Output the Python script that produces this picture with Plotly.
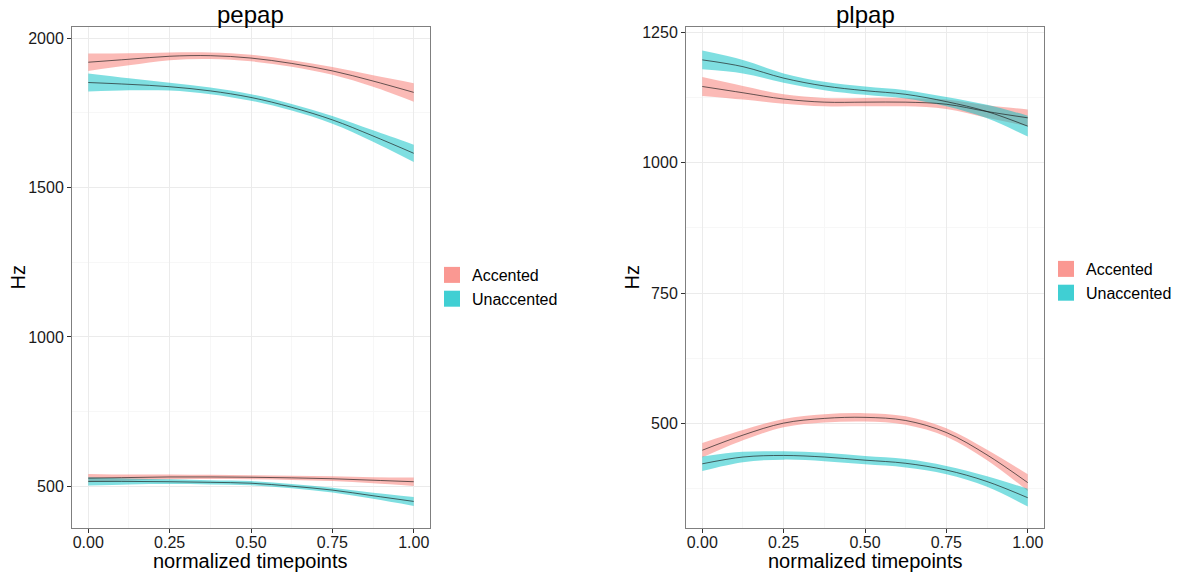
import plotly.graph_objects as go

# ---------------- data ----------------
timepoints = [0.0, 0.125, 0.25, 0.375, 0.5, 0.625, 0.75, 0.875, 1.0]
groups = ["Accented", "Unaccented"]
panels = ["pepap", "plpap"]
x_title = "normalized timepoints"
y_title = "Hz"
x_tick_vals = [0, 0.25, 0.5, 0.75, 1.0]
x_tick_text = ["0.00", "0.25", "0.50", "0.75", "1.00"]
y_ticks_pepap = [500, 1000, 1500, 2000]
y_ticks_plpap = [500, 750, 1000, 1250]

# pepap
pepap_acc_high = [1920, 1930, 1940, 1942, 1934, 1916, 1891, 1857, 1819]
pepap_acc_high_ci = [29, 20, 13, 11, 11, 11, 13, 19, 31]
pepap_unacc_high = [1852, 1846, 1838, 1824, 1802, 1769, 1727, 1673, 1615]
pepap_unacc_high_ci = [30, 20, 13, 11, 11, 11, 13, 19, 29]
pepap_acc_low = [527, 529, 531, 531, 530, 528, 525, 520, 515]
pepap_acc_low_ci = [14, 10, 8, 7, 7, 7, 8, 10, 14]
pepap_unacc_low = [516, 516, 515, 513, 510, 500, 487, 468, 449]
pepap_unacc_low_ci = [14, 10, 8, 7, 7, 7, 8, 10, 15]

# plpap
plpap_acc_high = [1146, 1134, 1122, 1116, 1116, 1116, 1112, 1098, 1086]
plpap_acc_high_ci = [18, 13, 9, 8, 8, 8, 9, 12, 16]
plpap_unacc_high = [1197, 1184, 1162, 1147, 1138, 1131, 1117, 1098, 1070]
plpap_unacc_high_ci = [18, 13, 9, 8, 8, 8, 9, 13, 20]
plpap_acc_low = [449, 478, 501, 510, 512, 506, 483, 440, 387]
plpap_acc_low_ci = [14, 10, 8, 8, 8, 8, 8, 10, 16]
plpap_unacc_low = [423, 436, 439, 436, 430, 424, 411, 389, 358]
plpap_unacc_low_ci = [14, 10, 8, 8, 8, 8, 8, 10, 17]

# ---------------- styling ----------------
FONT = "Liberation Sans, Arial, Helvetica, sans-serif"
ribbon_fill = {"Accented": "rgba(248,118,109,0.5)", "Unaccented": "rgba(0,191,196,0.5)"}
key_fill = {"Accented": "rgba(248,118,109,0.75)", "Unaccented": "rgba(0,191,196,0.75)"}

W, H = 1184, 579
dom_left = [72 / W, 430 / W]
dom_right = [686 / W, 1044 / W]
dom_y = [1 - 528 / H, 1 - 27 / H]

fig = go.Figure()


def add_band(mean, ci, group, xa, ya):
    lower = [m - c for m, c in zip(mean, ci)]
    upper = [m + c for m, c in zip(mean, ci)]
    fig.add_trace(go.Scatter(x=timepoints, y=lower, mode="lines",
                             line=dict(width=0, shape="spline", smoothing=1.0),
                             hoverinfo="skip", showlegend=False, xaxis=xa, yaxis=ya))
    fig.add_trace(go.Scatter(x=timepoints, y=upper, mode="lines", fill="tonexty",
                             fillcolor=ribbon_fill[group],
                             line=dict(width=0, shape="spline", smoothing=1.0),
                             hoverinfo="skip", showlegend=False, xaxis=xa, yaxis=ya))


def add_mean(mean, xa, ya):
    fig.add_trace(go.Scatter(x=timepoints, y=mean, mode="lines",
                             line=dict(color="rgba(30,30,30,0.85)", width=0.8,
                                       shape="spline", smoothing=1.0),
                             showlegend=False, xaxis=xa, yaxis=ya))


series = [
    ("x", "y", [(pepap_acc_high, pepap_acc_high_ci, "Accented"),
                (pepap_unacc_high, pepap_unacc_high_ci, "Unaccented"),
                (pepap_acc_low, pepap_acc_low_ci, "Accented"),
                (pepap_unacc_low, pepap_unacc_low_ci, "Unaccented")]),
    ("x2", "y2", [(plpap_acc_high, plpap_acc_high_ci, "Accented"),
                  (plpap_unacc_high, plpap_unacc_high_ci, "Unaccented"),
                  (plpap_acc_low, plpap_acc_low_ci, "Accented"),
                  (plpap_unacc_low, plpap_unacc_low_ci, "Unaccented")]),
]

for xa, ya, items in series:
    for mean, ci, g in items:
        add_band(mean, ci, g, xa, ya)
    for mean, ci, g in items:
        add_mean(mean, xa, ya)

# legend entries (one legend per panel)
for leg, xa, ya in [("legend", "x", "y"), ("legend2", "x2", "y2")]:
    for g in groups:
        fig.add_trace(go.Scatter(x=[None], y=[None], mode="markers", name=g,
                                 marker=dict(symbol="square", size=16, color=key_fill[g],
                                             line=dict(width=0)),
                                 legend=leg, xaxis=xa, yaxis=ya))

axis_common = dict(
    showline=True, mirror=True, linecolor="#7F7F7F", linewidth=1,
    ticks="outside", ticklen=4, tickcolor="#333333", tickwidth=1,
    showgrid=True, gridcolor="#EBEBEB", gridwidth=1,
    zeroline=False, automargin=False,
    tickfont=dict(family=FONT, size=16, color="#1a1a1a"),
)

xaxis_common = dict(axis_common, range=[-0.05, 1.05], tickmode="array",
                    tickvals=x_tick_vals, ticktext=x_tick_text, ticklabelstandoff=-4,
                    minor=dict(dtick=0.125, tick0=0, showgrid=True, gridcolor="#F7F7F7"))

title_font = dict(family=FONT, size=20, color="#000")
annotations = []
for name, dom, yx in [(panels[0], dom_left, 18), (panels[1], dom_right, 632)]:
    cx = (dom[0] + dom[1]) / 2
    annotations.append(dict(text=name, x=cx, y=1 - 15 / H, xref="paper", yref="paper",
                            showarrow=False, font=dict(family=FONT, size=24, color="#000"),
                            xanchor="center", yanchor="middle"))
    annotations.append(dict(text=x_title, x=cx, y=1 - 561 / H, xref="paper", yref="paper",
                            showarrow=False, font=title_font,
                            xanchor="center", yanchor="middle"))
    annotations.append(dict(text=y_title, x=yx / W, y=(dom_y[0] + dom_y[1]) / 2,
                            xref="paper", yref="paper", showarrow=False, font=title_font,
                            textangle=-90, xanchor="center", yanchor="middle"))

legend_common = dict(xanchor="left", yanchor="top", traceorder="normal",
                     font=dict(family=FONT, size=16, color="#000"),
                     bgcolor="rgba(0,0,0,0)", itemwidth=30, tracegroupgap=0)

fig.update_layout(
    width=W, height=H,
    margin=dict(l=0, r=0, t=0, b=0),
    paper_bgcolor="white", plot_bgcolor="white",
    font=dict(family=FONT, color="#000"),
    xaxis=dict(xaxis_common, domain=dom_left, anchor="y"),
    xaxis2=dict(xaxis_common, domain=dom_right, anchor="y2"),
    yaxis=dict(axis_common, domain=dom_y, anchor="x", range=[360, 2038],
               tickmode="array", tickvals=y_ticks_pepap,
               minor=dict(dtick=250, tick0=0, showgrid=True, gridcolor="#F7F7F7")),
    yaxis2=dict(axis_common, domain=dom_y, anchor="x2", range=[300, 1260],
                tickmode="array", tickvals=y_ticks_plpap,
                minor=dict(dtick=125, tick0=0, showgrid=True, gridcolor="#F7F7F7")),
    legend=dict(legend_common, x=432 / W, y=1 - 258 / H),
    legend2=dict(legend_common, x=1046 / W, y=1 - 252 / H),
    showlegend=True,
    annotations=annotations,
)

fig.write_html("out.html", config={"displayModeBar": False},
               post_script="document.body.style.margin='0';document.body.style.padding='0';")
